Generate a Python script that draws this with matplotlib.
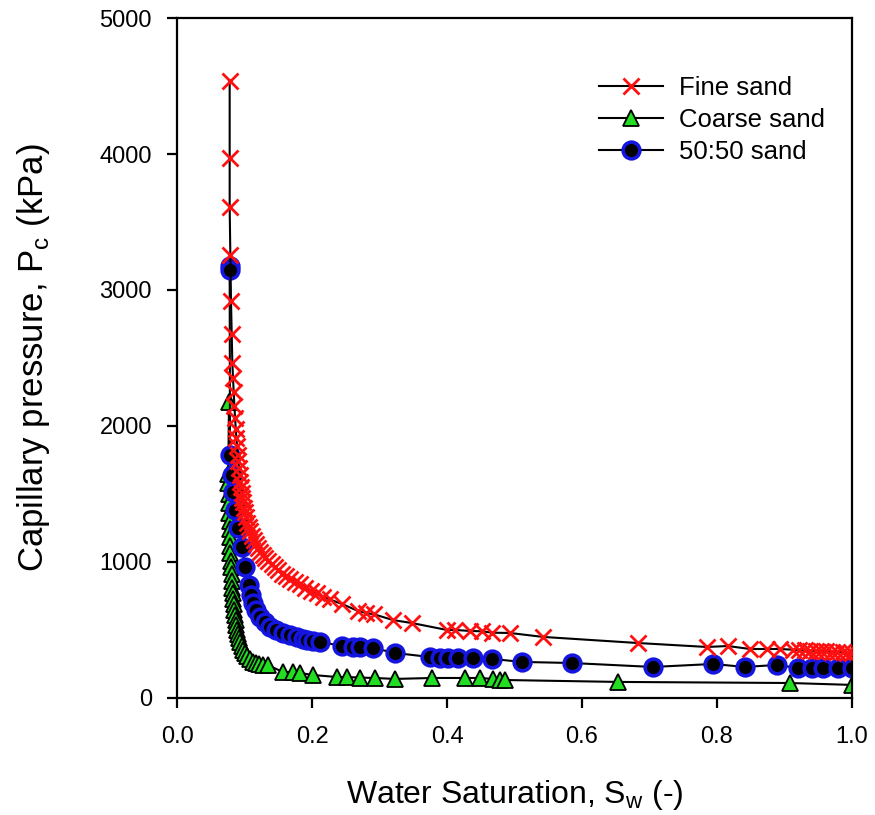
import matplotlib
matplotlib.use("Agg")
import matplotlib.pyplot as plt

plt.rcParams["font.family"] = ["Liberation Sans", "DejaVu Sans"]

# Fine sand
fine_sw = [0.078, 0.078, 0.078, 0.079, 0.080, 0.081, 0.082, 0.083, 0.084, 0.085,
           0.086, 0.087, 0.088, 0.089, 0.090, 0.091, 0.092, 0.093, 0.094, 0.095,
           0.096, 0.097, 0.098, 0.099, 0.100, 0.102, 0.104, 0.106, 0.108, 0.111,
           0.114, 0.117, 0.120, 0.123, 0.127, 0.131, 0.135, 0.140, 0.145, 0.150,
           0.156, 0.162, 0.168, 0.175, 0.182, 0.190, 0.198, 0.207, 0.216, 0.226,
           0.245, 0.268, 0.280, 0.292, 0.320, 0.348, 0.400, 0.412, 0.434, 0.452,
           0.467, 0.493, 0.542, 0.683, 0.785, 0.816, 0.849, 0.874, 0.893, 0.913,
           0.922, 0.930, 0.938, 0.946, 0.954, 0.962, 0.970, 0.978, 0.986, 0.993,
           1.0]
fine_pc = [4540, 3970, 3610, 3260, 2920, 2680, 2460, 2350, 2250, 2150,
           2060, 1980, 1910, 1850, 1790, 1740, 1690, 1640, 1590, 1550,
           1510, 1470, 1440, 1400, 1370, 1330, 1290, 1260, 1230, 1190,
           1160, 1130, 1100, 1075, 1050, 1030, 1010, 985, 960, 940,
           915, 895, 875, 855, 835, 810, 790, 770, 745, 725,
           690, 640, 625, 615, 573, 551, 500, 500, 493, 490,
           480, 478, 449, 404, 375, 382, 360, 360, 360, 355,
           352, 350, 348, 346, 344, 342, 340, 338, 336, 334,
           330]

# Coarse sand
coarse_sw = [0.077, 0.076, 0.076, 0.077, 0.077, 0.077, 0.078, 0.078, 0.078, 0.079,
             0.079, 0.080, 0.080, 0.081, 0.081, 0.082, 0.083, 0.083, 0.084, 0.085,
             0.086, 0.087, 0.088, 0.089, 0.090, 0.092, 0.094, 0.096, 0.098, 0.101,
             0.104, 0.108, 0.112, 0.117, 0.122, 0.128, 0.135, 0.157, 0.172, 0.182,
             0.201, 0.237, 0.252, 0.271, 0.293, 0.323, 0.378, 0.427, 0.449, 0.468,
             0.479, 0.486, 0.653, 0.908, 1.0]
coarse_pc = [2180, 1650, 1580, 1500, 1430, 1360, 1300, 1240, 1180, 1120,
             1066, 1010, 960, 910, 860, 810, 772, 730, 690, 650,
             610, 570, 535, 500, 470, 440, 410, 380, 355, 330,
             305, 285, 268, 255, 248, 243, 240, 191, 191, 184,
             169, 154, 154, 150, 147, 140, 147, 147, 147, 140,
             132, 132, 118, 110, 96]

# 50:50 sand
mix_sw = [0.078, 0.078, 0.0785, 0.081, 0.083, 0.086, 0.090, 0.096, 0.101, 0.107,
          0.110, 0.113, 0.117, 0.123, 0.130, 0.138, 0.147, 0.157, 0.167, 0.178,
          0.186, 0.193, 0.202, 0.212, 0.245, 0.260, 0.271, 0.290, 0.323, 0.375,
          0.390, 0.401, 0.416, 0.439, 0.467, 0.511, 0.585, 0.705, 0.794, 0.841,
          0.889, 0.920, 0.941, 0.957, 0.979, 1.0]
mix_pc = [3180, 3150, 1787, 1640, 1515, 1382, 1250, 1110, 963, 831,
          760, 700, 645, 596, 555, 522, 498, 478, 462, 449,
          437, 426, 418, 412, 382, 375, 375, 368, 331, 301,
          296, 296, 296, 296, 287, 265, 257, 228, 250, 228,
          243, 220, 220, 220, 220, 220]

fig = plt.figure(figsize=(8.75, 8.15), dpi=100)
ax = fig.add_axes([0.2023, 0.1436, 0.7714, 0.8343])

ax.plot(fine_sw, fine_pc, color="black", lw=1.5, marker="x", ms=12,
        mec="#ff1010", mew=2.0, label="Fine sand", zorder=3)
ax.plot(coarse_sw, coarse_pc, color="black", lw=1.5, marker="^", ms=11,
        mfc="#22dd22", mec="black", mew=1.3, label="Coarse sand", zorder=2)
ax.plot(mix_sw, mix_pc, color="black", lw=1.5, marker="o", ms=12,
        mfc="black", mec="#1515e0", mew=2.6, label="50:50 sand", zorder=2)

ax.set_xlim(0, 1.0)
ax.set_ylim(0, 5000)
ax.set_xticks([0.0, 0.2, 0.4, 0.6, 0.8, 1.0])
ax.set_xticklabels(["0.0", "0.2", "0.4", "0.6", "0.8", "1.0"])
ax.set_yticks([0, 1000, 2000, 3000, 4000, 5000])

for s in ax.spines.values():
    s.set_linewidth(1.6)
ax.tick_params(direction="out", length=7, width=1.6, labelsize=17,
               colors="black")
ax.tick_params(axis="x", pad=13)
ax.tick_params(axis="y", pad=11)

ax.set_xlabel("Water Saturation, S$_\\mathregular{w}$ (-)", fontsize=23, labelpad=22)
ax.set_ylabel("Capillary pressure, P$_\\mathregular{c}$ (kPa)", fontsize=25, labelpad=34)

ax.legend(loc="upper right", frameon=False, fontsize=18.5, handlelength=2.5,
          handletextpad=0.6, labelspacing=0.32, borderaxespad=0.0,
          bbox_to_anchor=(0.975, 0.93))

fig.savefig("out.png", dpi=100)
